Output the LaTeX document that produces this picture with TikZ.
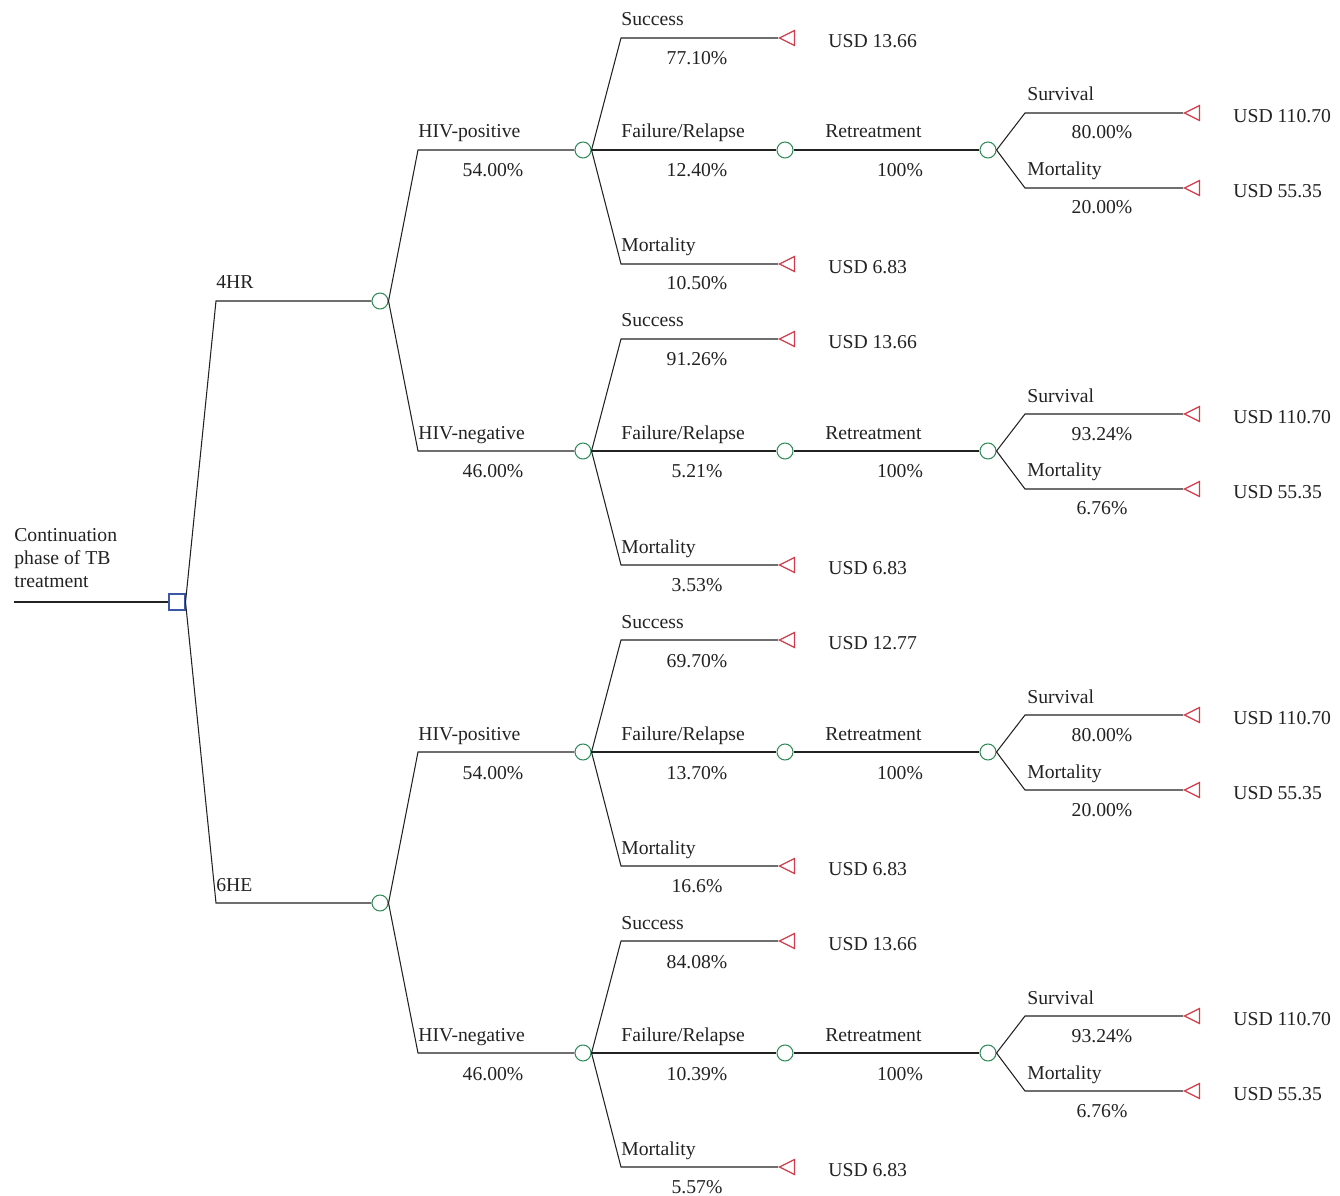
\documentclass[tikz,border=0pt]{standalone}
\usepackage{fontspec}
\setmainfont{Liberation Serif}
\usepackage{tikz}
\usetikzlibrary{calc,shapes.geometric}
\definecolor{chancegreen}{HTML}{2E8B57}
\definecolor{decblue}{HTML}{3B58A6}
\definecolor{termred}{HTML}{D33C4B}
\definecolor{ink}{HTML}{222222}
\tikzset{
  treefont/.style={font=\fontsize{11.2}{13}\selectfont,text=ink},
  branch/.style={draw=ink,line width=.6pt},
  chance/.style={circle,draw=chancegreen,line width=.6pt,minimum size=.32cm,inner sep=0pt,fill=white},
  decision/.style={rectangle,draw=decblue,line width=.6pt,minimum size=.32cm,inner sep=0pt,fill=white},
  terminal/.style={isosceles triangle,shape border rotate=180,isosceles triangle stretches,
    minimum width=.3cm,minimum height=.3cm,inner sep=0pt,draw=termred,line width=.7pt,anchor=apex},
  lab/.style={treefont,inner sep=0pt,anchor=base west},
  prob/.style={treefont,inner sep=0pt,anchor=base},
  payoff/.style={treefont,inner sep=0pt,anchor=base west}
}
\begin{document}
\begin{tikzpicture}[x=0.02cm,y=-0.02cm]
\useasboundingbox (0,0) rectangle (1340,1196);
% decision and strategies
\coordinate (root) at (14,602);
\node[decision] (D) at (177,602) {};
\node[treefont,inner sep=0pt,anchor=south west,align=left] (title) at (14,588) {Continuation\\phase of TB\\treatment};
\draw[branch] (root) -- (D);
\node[chance] (R4) at (380,301) {};
\node[chance] (R6) at (380,903) {};
\coordinate (k4) at (216,301);
\coordinate (k6) at (216,903);
\draw[branch] (D.east) -- (k4) -- (R4);
\draw[branch] (D.east) -- (k6) -- (R6);
\node[lab] (l4) at (216,289) {4HR};
\node[lab] (l6) at (216,891) {6HE};
% one subtree per HIV group
\foreach \bn/\src/\yy/\grp/\pg/\psu/\csu/\pfr/\psv/\pmo/\pmt in {
  1/R4/150/positive/54.00/77.10/13.66/12.40/80.00/20.00/10.50,
  2/R4/451/negative/46.00/91.26/13.66/5.21/93.24/6.76/3.53,
  3/R6/752/positive/54.00/69.70/12.77/13.70/80.00/20.00/16.6,
  4/R6/1053/negative/46.00/84.08/13.66/10.39/93.24/6.76/5.57}{
  \node[chance] (h\bn) at (583,\yy) {};
  \coordinate (hk\bn) at (418,\yy);
  \draw[branch] (\src.east) -- (hk\bn) -- (h\bn);
  \node[lab] (hl\bn) at (418,\yy-12) {HIV-\grp};
  \node[prob] (hp\bn) at (493,\yy+27) {\pg\%};
  % success
  \coordinate (sk\bn) at (621,\yy-112);
  \node[terminal] (st\bn) at (778,\yy-112) {};
  \draw[branch] (h\bn.east) -- (sk\bn) -- (st\bn);
  \node[lab] (sl\bn) at (621,\yy-124) {Success};
  \node[prob] (sp\bn) at (697,\yy-85) {\psu\%};
  \node[payoff] (su\bn) at (828,\yy-102.5) {USD \csu};
  % failure / relapse and retreatment
  \node[chance] (f\bn) at (785,\yy) {};
  \node[chance] (r\bn) at (988,\yy) {};
  \draw[branch] (h\bn) -- (f\bn);
  \draw[branch] (f\bn) -- (r\bn);
  \node[lab] (fl\bn) at (621,\yy-12) {Failure/Relapse};
  \node[prob] (fp\bn) at (697,\yy+27) {\pfr\%};
  \node[lab] (rl\bn) at (825,\yy-12) {Retreatment};
  \node[prob] (rp\bn) at (900,\yy+27) {100\%};
  % survival after retreatment
  \coordinate (vk\bn) at (1025,\yy-37);
  \node[terminal] (vt\bn) at (1183,\yy-37) {};
  \draw[branch] (r\bn.east) -- (vk\bn) -- (vt\bn);
  \node[lab] (vl\bn) at (1027,\yy-49) {Survival};
  \node[prob] (vp\bn) at (1102,\yy-11) {\psv\%};
  \node[payoff] (vu\bn) at (1233,\yy-27.5) {USD 110.70};
  % mortality after retreatment
  \coordinate (mk\bn) at (1025,\yy+38);
  \node[terminal] (mt\bn) at (1183,\yy+38) {};
  \draw[branch] (r\bn.east) -- (mk\bn) -- (mt\bn);
  \node[lab] (ml\bn) at (1027,\yy+26) {Mortality};
  \node[prob] (mp\bn) at (1102,\yy+64) {\pmo\%};
  \node[payoff] (mu\bn) at (1233,\yy+47.5) {USD 55.35};
  % mortality
  \coordinate (dk\bn) at (621,\yy+114);
  \node[terminal] (dt\bn) at (778,\yy+114) {};
  \draw[branch] (h\bn.east) -- (dk\bn) -- (dt\bn);
  \node[lab] (dl\bn) at (621,\yy+102) {Mortality};
  \node[prob] (dp\bn) at (697,\yy+140) {\pmt\%};
  \node[payoff] (du\bn) at (828,\yy+123.5) {USD 6.83};
}
\end{tikzpicture}
\end{document}
